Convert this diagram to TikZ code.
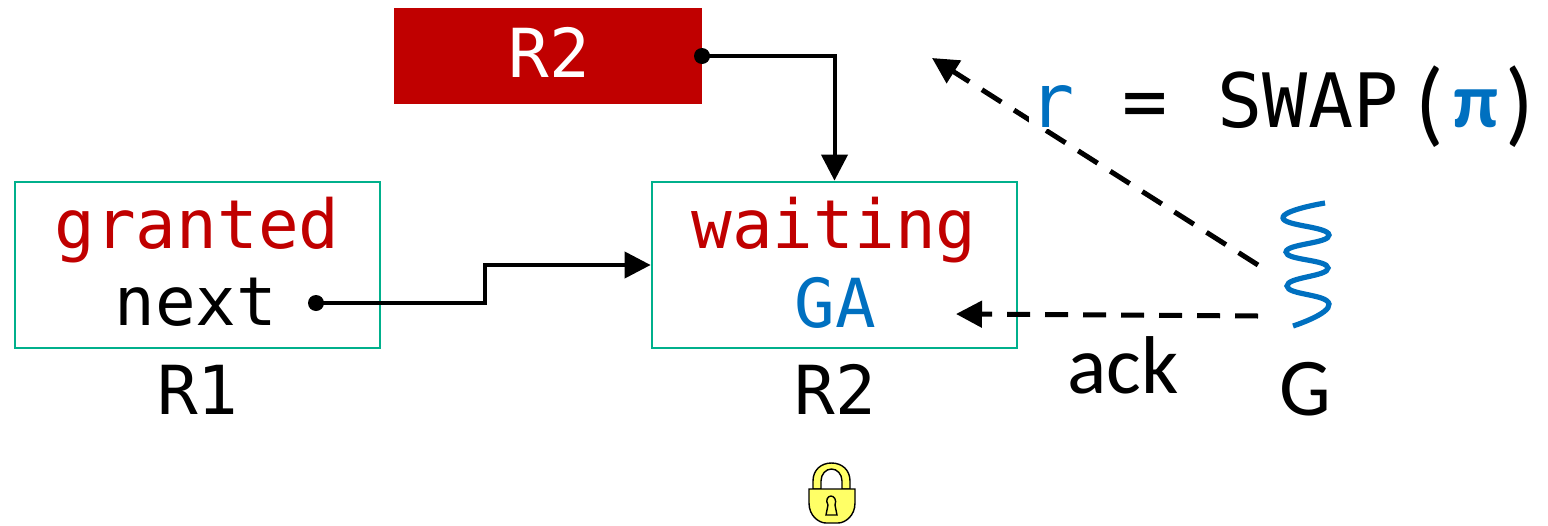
\documentclass[tikz,border=0pt]{standalone}
\usepackage{fontspec}
\setmonofont{DejaVu Sans Mono}
\newfontfamily\carlito{Carlito}
\usetikzlibrary{arrows.meta}
\usetikzlibrary{positioning}
\definecolor{boxgreen}{HTML}{00B08C}
\definecolor{darkred}{HTML}{C00000}
\definecolor{swapblue}{HTML}{0070C0}
\definecolor{lockyellow}{HTML}{FFFF66}
\tikzset{
    mono/.style = {font=\ttfamily\fontsize{33.8}{40}\selectfont, inner sep=0pt, anchor=base},
    bigmono/.style = {font=\ttfamily\fontsize{37.5}{44}\selectfont, inner sep=0pt, anchor=base},
    plain/.style = {font=\carlito\fontsize{41}{48}\selectfont, inner sep=0pt, anchor=base},
    paren/.style = {font=\carlito\fontsize{47}{52}\selectfont, inner sep=0pt, anchor=base},
    regbox/.style = {draw=boxgreen, line width=1.35pt, minimum width=182.5pt, minimum height=83pt, inner sep=0pt},
    redbox/.style = {fill=darkred, minimum width=154pt, minimum height=48pt, inner sep=0pt},
    pin/.style = {circle, fill=black, minimum size=8pt, inner sep=0pt},
    link/.style = {line width=2pt, -{Triangle[length=13pt,width=13pt]}},
    msg/.style = {line width=2.5pt, dash pattern=on 11.5pt off 7.5pt, -{Triangle[length=13pt,width=13pt]}},
    lockline/.style = {line width=0.7pt}
}
\begin{document}
\begin{tikzpicture}[x=0.5pt, y=-0.5pt]
    \useasboundingbox (0,0) rectangle (1548,525);
    % boxes
    \node[regbox] (r1) at (197.5,265) {};
    \node[regbox] (r2) at (834.5,265) {};
    \node[redbox] (tail) at (548,56) {};
    % texts in the boxes
    \node[mono, text=darkred] (granted) at (197,248) {granted};
    \node[mono] (next) at (196,325) {next};
    \node[mono, text=darkred] (waiting) at (834,248) {waiting};
    \node[mono, text=swapblue] (ga) at (835,327) {GA};
    \node[mono] (r1name) at (198,414) {R1};
    \node[mono] (r2name) at (835,414) {R2};
    \node[mono, text=white] (tailname) at (549,77) {R2};
    \node[plain] (ack) at (1123,393) {ack};
    \node[plain] (gname) at (1305,415) {G};
    % pointers
    \node[pin] (nextpin) at (316,303) {};
    \node[pin] (tailpin) at (702,56) {};
    \draw[link] (nextpin.center) -- (485,303) -- (485,265) -- (r2.west);
    \draw[link] (tailpin.center) -| (r2.north);
    % thread and its messages
    \coordinate (gtop) at (1258,265);
    \coordinate (gack) at (1258,316);
    \coordinate (swapend) at (932,58);
    \coordinate (ackend) at (956,314);
    \draw[msg] (gtop) -- (swapend);
    \draw[msg] (gack) -- (ackend);
    \draw[swapblue, line width=2.6pt] plot[smooth, tension=0.9] coordinates {
        (1325,203) (1283,218) (1329,235) (1286,252) (1328,268) (1287,286) (1329,304) (1293,326)};
    \node[bigmono, text=swapblue, fill=white, text depth=1pt] (swapr) at (1052,127) {r};
    \node[bigmono] (equals) at (1145,127) {=};
    \node[bigmono] (swap) at (1308,127) {SWAP};
    \node[paren] (lparen) at (1430,134) {(};
    \node[plain, font=\carlito\bfseries\fontsize{39}{44}\selectfont, text=swapblue] (pi) at (1476,127) {π};
    \node[paren] (rparen) at (1520,134) {)};
    % lock
    \draw[lockline, fill=lockyellow] (813,489) -- (813,481) .. controls (813,470) and (821,463) .. (831.5,463)
        .. controls (842,463) and (850,470) .. (850,481) -- (850,489) -- (842,489) -- (842,481)
        .. controls (842,474) and (837,469) .. (831.5,469) .. controls (826,469) and (821,474) .. (821,481)
        -- (821,489) -- cycle;
    \draw[lockline, fill=lockyellow] (809,489) -- (855,489) -- (855,503) .. controls (855,516) and (845,523) .. (838,523)
        -- (826,523) .. controls (819,523) and (809,516) .. (809,503) -- cycle;
    \draw[lockline] (826,515) -- (828,505) .. controls (825,500) and (828,496) .. (831,496)
        .. controls (834,496) and (837,500) .. (835,505) -- (837,515) -- cycle;
\end{tikzpicture}
\end{document}
